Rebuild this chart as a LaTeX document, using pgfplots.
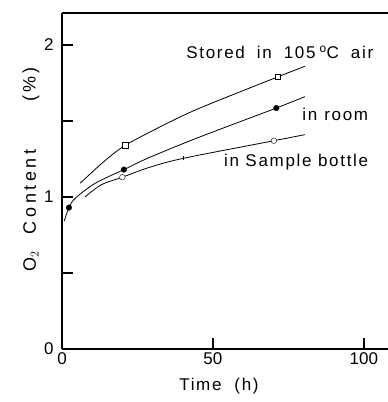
\documentclass[border=0pt]{standalone}
\usepackage{fontspec}
\setmainfont{Liberation Sans}
\usepackage{pgfplots}
\pgfplotsset{compat=1.18}
\usetikzlibrary{calc}
\newcommand\lbl{\fontsize{17}{19}\selectfont\addfontfeatures{LetterSpace=10}}
\newcommand\ylbl{\fontsize{18}{20}\selectfont\addfontfeatures{LetterSpace=20}}
\begin{document}
\begin{tikzpicture}
\begin{axis}[name=ax,
  scale only axis, width=326pt, height=336pt,
  xmin=0, xmax=108, ymin=0, ymax=2.21,
  axis x line*=bottom, axis y line*=left,
  axis line style={line width=2pt,-},
  xtick={50,100}, extra x ticks={0}, extra x tick style={major tick length=0pt},
  ytick={0,1,2}, minor ytick={0.5,1.5},
  tick style={line width=2pt,black}, tick align=inside,
  major tick length=11pt, minor tick length=11pt,
  ticklabel style={font=\fontsize{17}{19}\selectfont},
  yticklabel style={xshift=-5pt},
  /pgf/number format/assume math mode=true,
  clip=false,
]
\addplot[smooth, tension=0.5, black, line width=0.8pt] coordinates {(6,1.09) (14,1.235) (21,1.34) (33.4,1.47) (45.7,1.585) (71.5,1.79) (80.5,1.86)};
\addplot[smooth, tension=0.5, black, line width=0.8pt] coordinates {(0.7,0.84) (2.3,0.93) (4.3,0.99) (11,1.09) (20.5,1.18) (29,1.26) (45.7,1.395) (71,1.585) (80.5,1.66)};
\addplot[smooth, tension=0.5, black, line width=0.8pt] coordinates {(7.6,1.0) (13,1.08) (20,1.13) (29,1.195) (40.4,1.255) (70.2,1.37) (80.5,1.41)};
\addplot[only marks, mark=square*, mark size=2.8pt, black, mark options={fill=white}] coordinates {(21,1.34) (71.5,1.79)};
\addplot[only marks, mark=*, mark size=2.8pt, black] coordinates {(2.3,0.93) (20.5,1.18) (71,1.585)};
\addplot[only marks, mark=*, mark size=2.8pt, black, mark options={fill=white}] coordinates {(20,1.13) (70.2,1.37)};
\addplot[only marks, mark=|, mark size=2pt, black, line width=1pt] coordinates {(40.4,1.255)};
\draw[line width=2pt] (rel axis cs:0,1) -- (rel axis cs:1,1);
\node[anchor=east, font=\lbl] at (axis cs:104.3,1.95) {Stored\hspace{12pt}in\hspace{12pt}105\hspace{4pt}\textsuperscript{o}C\hspace{12pt}air};
\node[anchor=east, font=\lbl] at (axis cs:102.6,1.54) {in\hspace{7pt}room};
\node[anchor=east, font=\lbl] at (axis cs:102.6,1.23) {in Sample bottle};
\node[font=\lbl] at (axis cs:52,-0.245) {Time\ \ (h)};
\node[rotate=90, font=\ylbl] at ($(axis cs:0,0.91)+(-31pt,0)$) {O$_2$\ \ Content};
\node[rotate=90, font=\ylbl] at ($(axis cs:0,1.74)+(-31pt,0)$) {(\,\%\,)};
\end{axis}
\pgfresetboundingbox
\path ($(ax.south west)+(-62pt,-53pt)$) rectangle ($(ax.south west)+(326pt,349pt)$);
\end{tikzpicture}
\end{document}
